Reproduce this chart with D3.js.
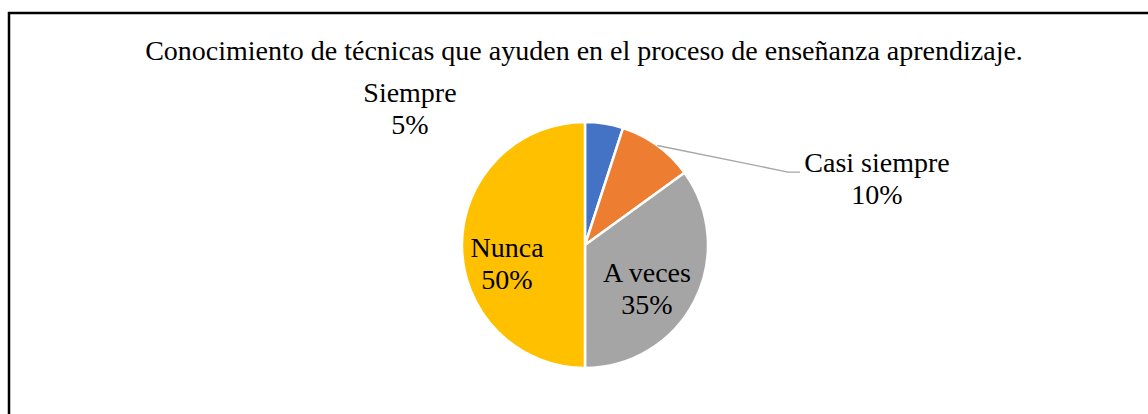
<!DOCTYPE html>
<meta charset="utf-8">
<title>Conocimiento de técnicas</title>
<style>
body { margin: 0; background: #fff; }
svg text { font-family: 'Liberation Serif', 'Times New Roman', serif; fill: #000; }
</style>
<body>
<svg width="1148" height="414"></svg>
<script src="https://d3js.org/d3.v7.min.js"></script>
<script>
// data
var categories = ["Siempre", "Casi siempre", "A veces", "Nunca"];
var values = [5, 10, 35, 50];
var colors = ["#4472C4", "#ED7D31", "#A5A5A5", "#FFC000"];
var title = "Conocimiento de técnicas que ayuden en el proceso de enseñanza aprendizaje.";

var svg = d3.select("svg"),
    cx = 585, cy = 245, radius = 123;

// chart frame (runs off the right and bottom edge)
svg.append("rect")
    .attr("x", 9).attr("y", 13)
    .attr("width", 1160).attr("height", 420)
    .attr("fill", "none")
    .attr("stroke", "#000")
    .attr("stroke-width", 2.5);

svg.append("text")
    .attr("x", 584).attr("y", 60)
    .attr("text-anchor", "middle")
    .attr("font-size", "28px")
    .text(title);

var pie = d3.pie().sort(null).value(function(d) { return d; });
var arcs = pie(values);

var arc = d3.arc().innerRadius(0).outerRadius(radius);

var g = svg.append("g").attr("transform", "translate(" + cx + "," + cy + ")");

g.selectAll("path.slice")
    .data(arcs)
  .enter().append("path")
    .attr("class", "slice")
    .attr("d", arc)
    .attr("fill", function(d, i) { return colors[i]; })
    .attr("stroke", "#fff")
    .attr("stroke-width", 2.5)
    .attr("stroke-linejoin", "round");

// label placement (Excel "best fit"): first baseline, in radius units from the centre
var labelPos = [[-1.423, -1.163], [2.374, -0.593], [0.504, 0.301], [-0.634, 0.098]];
var pct = d3.format(".0%");
var total = d3.sum(values);

// leader line for "Casi siempre"
var lead = arcs[1];
var mid = (lead.startAngle + lead.endAngle) / 2;
var p0 = [Math.sin(mid) * radius, -Math.cos(mid) * radius];
var p1 = [labelPos[1][0] * radius - 89, labelPos[1][1] * radius];
var p2 = [p1[0] + 12, p1[1]];
g.append("polyline")
    .attr("points", [p0, p1, p2].map(function(p) { return p.join(","); }).join(" "))
    .attr("fill", "none")
    .attr("stroke", "#A6A6A6")
    .attr("stroke-width", 1.3);

var labels = g.selectAll("text.lbl")
    .data(arcs)
  .enter().append("text")
    .attr("class", "lbl")
    .attr("text-anchor", "middle")
    .attr("font-size", "28px")
    .attr("transform", function(d, i) {
      return "translate(" + labelPos[i][0] * radius + "," + labelPos[i][1] * radius + ")";
    });

labels.append("tspan")
    .attr("x", 0).attr("dy", 0)
    .text(function(d, i) { return categories[i]; });
labels.append("tspan")
    .attr("x", 0).attr("dy", 32)
    .text(function(d) { return pct(d.value / total); });
</script>
</body>
